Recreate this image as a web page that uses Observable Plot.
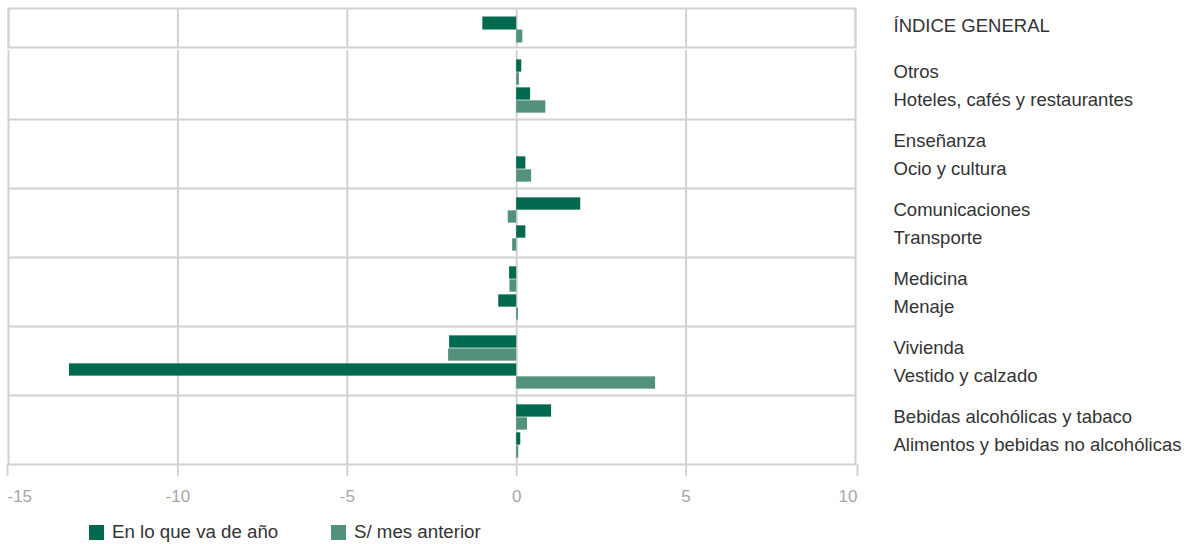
<!DOCTYPE html>
<html><head><meta charset="utf-8">
<script src="https://cdn.jsdelivr.net/npm/d3@7"></script>
<script src="https://cdn.jsdelivr.net/npm/@observablehq/plot@0.6"></script>
<style>
body{margin:0;background:#fff;font-family:"Liberation Sans",Arial,sans-serif;}
#chart{width:1187px;}
#chart svg{display:block;}
#legend{position:relative;width:1187px;height:32px;}
.item{position:absolute;top:11px;display:flex;align-items:center;font-size:18.7px;color:#333;line-height:18px;}
.sw{width:15px;height:15px;margin-right:8px;}
</style></head><body>
<div id="chart"></div>
<div id="legend"></div>
<script>
const categories = ["ÍNDICE GENERAL","Otros","Hoteles, cafés y restaurantes","Enseñanza","Ocio y cultura","Comunicaciones","Transporte","Medicina","Menaje","Vivienda","Vestido y calzado","Bebidas alcohólicas y tabaco","Alimentos y bebidas no alcohólicas"];
const ytd = [-1.0, 0.15, 0.41, 0, 0.27, 1.89, 0.27, -0.21, -0.53, -1.98, -13.2, 1.03, 0.12];
const mom = [0.18, 0.08, 0.86, 0, 0.44, -0.25, -0.12, -0.2, 0.05, -2.01, 4.1, 0.32, 0.06];
const seriesNames = ["En lo que va de año", "S/ mes anterior"];
const xTicks = [-15, -10, -5, 0, 5, 10];
const colors = ["#00694E", "#52917D"];

const font = '"Liberation Sans", Arial, sans-serif';
const head = [{cat: categories[0], ytd: ytd[0], mom: mom[0]}];
const rest = categories.slice(1).map((c, i) => ({
  cat: c, group: "g" + Math.floor(i / 2), pos: i % 2 ? "B" : "A", ytd: ytd[i + 1], mom: mom[i + 1]
}));
const groups = [...new Set(rest.map(d => d.group))];
const gridStyle = {stroke: "#d2d2d2", strokeOpacity: 1, strokeWidth: 2};
const common = {
  width: 1187, marginLeft: 8, marginRight: 332,
  style: {fontFamily: font, fontSize: "18px", background: "white", overflow: "visible"}
};
const labelSize = 18.5;
const tickFmt = d => String(d);
const axisStyle = {tickSize: 12, tickPadding: 13, stroke: "#d2d2d2", strokeWidth: 2, fill: "#a6a6a6", fontSize: 17, tickFormat: tickFmt};

const plotA = Plot.plot({
  ...common, height: 48, marginTop: 8, marginBottom: 1,
  x: {domain: [-15, 10], axis: null},
  y: {domain: [categories[0]], paddingInner: 0, paddingOuter: 0, axis: null},
  marks: [
    Plot.ruleX(xTicks, gridStyle),
    Plot.frame(gridStyle),
    Plot.barX(head, {x: "ytd", y: "cat", fill: colors[0], insetTop: 8.5, insetBottom: 17.5}),
    Plot.barX(head, {x: "mom", y: "cat", fill: colors[1], insetTop: 21.5, insetBottom: 4.5}),
    Plot.text(head, {y: "cat", text: "cat", frameAnchor: "right", dx: 38, dy: -2, textAnchor: "start", fill: "#333", fontSize: labelSize})
  ]
});

const plotB = Plot.plot({
  ...common, height: 464, marginTop: 0, marginBottom: 46,
  x: {domain: [-15, 10]},
  fy: {domain: groups, paddingInner: 0, paddingOuter: 0, axis: null},
  y: {domain: ["A", "B"], paddingInner: 0, paddingOuter: 0.214, align: 0.6, axis: null},
  marks: [
    Plot.ruleX(xTicks, gridStyle),
    Plot.frame({anchor: "bottom", ...gridStyle}),
    Plot.barX(rest, {x: "ytd", y: "pos", fy: "group", fill: colors[0], insetTop: 1.35, insetBottom: 14.35}),
    Plot.barX(rest, {x: "mom", y: "pos", fy: "group", fill: colors[1], insetTop: 14.35, insetBottom: 1.35}),
    Plot.text(rest, {fy: "group", y: "pos", text: "cat", frameAnchor: "right", dx: 38, textAnchor: "start", fill: "#333", fontSize: labelSize}),
    Plot.axisX(xTicks.slice(1, -1), axisStyle),
    Plot.axisX(xTicks.slice(0, 1), {...axisStyle, textAnchor: "start", dx: -1}),
    Plot.axisX(xTicks.slice(-1), {...axisStyle, textAnchor: "end", dx: 2})
  ]
});

const chart = document.getElementById("chart");
chart.appendChild(plotA);
chart.appendChild(plotB);

const legend = document.getElementById("legend");
const lefts = [89, 331];
seriesNames.forEach((name, i) => {
  const item = document.createElement("div");
  item.className = "item";
  item.style.left = lefts[i] + "px";
  const sw = document.createElement("span");
  sw.className = "sw";
  sw.style.background = colors[i];
  const t = document.createElement("span");
  t.textContent = name;
  item.appendChild(sw);
  item.appendChild(t);
  legend.appendChild(item);
});
</script>
</body></html>
